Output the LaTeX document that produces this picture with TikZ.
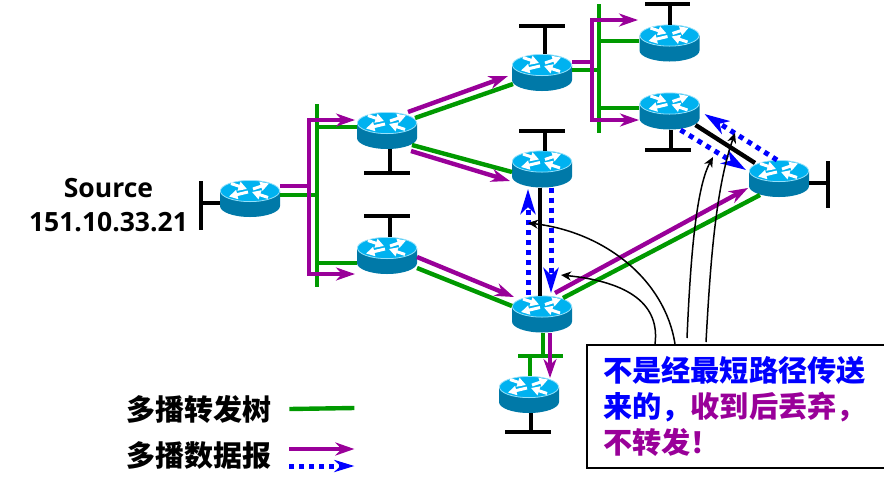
\documentclass[tikz,border=0pt]{standalone}
\usepackage{fontspec}
\usepackage{xcolor}
\usetikzlibrary{arrows.meta}
\setmainfont{Open Sans}
\newfontfamily\cjk{Noto Sans CJK SC}
\definecolor{treegreen}{RGB}{0,153,0}
\definecolor{datapurple}{RGB}{153,0,153}
\definecolor{pushblue}{RGB}{0,0,255}
\definecolor{routertop}{RGB}{0,178,240}
\definecolor{routerbody}{RGB}{0,121,168}
\definecolor{routerrim}{RGB}{150,225,250}
\tikzset{
    routerarrow/.style={white, line width=3pt, -{Triangle[length=8.5pt,width=9pt]}},
    router/.style={inner sep=0pt, outer sep=0pt, minimum width=60pt, minimum height=37pt,
        path picture={
            \begin{scope}[x=1pt, y=1pt, shift={(path picture bounding box.center)}]
                \fill[routerbody] (-30,7.5) -- (-30,-7.5)
                    arc[start angle=180, end angle=360, x radius=30, y radius=11] -- (30,7.5) -- cycle;
                \fill[routertop, draw=routerrim, line width=0.8pt] (0,7.5) ellipse [x radius=29.6, y radius=10.6];
                \draw[routerarrow] (-19,15) -- (-3,9.5);
                \draw[routerarrow] (3,9.5) -- (19,15);
                \draw[routerarrow] (-2,6.5) -- (-21,2);
                \draw[routerarrow] (18,1) -- (2,6.5);
            \end{scope}
        }},
    treeline/.style={treegreen, line width=4.4pt},
    dataline/.style={datapurple, line width=4.4pt, -{Stealth[length=19pt,width=13pt,inset=6pt]}},
    pushline/.style={pushblue, line width=5pt, dash pattern=on 5pt off 5pt,
        -{Stealth[length=25pt,width=15pt,inset=7pt]}},
    lanline/.style={black, line width=4.4pt},
    noteline/.style={black, line width=1.5pt, -{Stealth[length=10pt,width=9pt,inset=3pt]}},
    labeltext/.style={inner sep=0pt, font=\cjk\bfseries\fontsize{29}{36}\selectfont},
}

\begin{document}
\begin{tikzpicture}[x=1pt, y=-1pt]
    \useasboundingbox (0,0) rectangle (884,491);

    % Routers
    \node[router] (r0) at (250,198.5) {};
    \node[router] (r1) at (387,130.5) {};
    \node[router] (r2) at (387,255.5) {};
    \node[router] (r3) at (542,72.5) {};
    \node[router] (r4) at (542,169) {};
    \node[router] (r5) at (542,314) {};
    \node[router] (r6) at (529,394.5) {};
    \node[router] (r7) at (669.5,43) {};
    \node[router] (r8) at (669.5,111) {};
    \node[router] (r9) at (779,178.5) {};

    % Source address
    \node[inner sep=0pt, font=\bfseries\fontsize{26.5}{34}\selectfont, align=center] (source) at (108.5,205)
        {Source\\151.10.33.21};

    % Stub LANs
    \coordinate (lan0) at (201,181);
    \coordinate (lan1) at (390,173);
    \coordinate (lan2) at (390,216);
    \coordinate (lan3) at (545,26);
    \coordinate (lan4) at (545,131);
    \coordinate (lan6) at (531,432);
    \coordinate (lan7) at (670,4);
    \coordinate (lan8) at (671,150);
    \coordinate (lan9) at (828,161);
    \draw[lanline] (lan0) -- ++(0,49);
    \draw[lanline] ([shift={(-30,4.5)}]r0.center) -- ++(-19,0);
    \draw[lanline] ([xshift=-26pt]lan1) -- ([xshift=20pt]lan1);
    \draw[lanline] (lan1) -- (lan1 |- r1.south);
    \draw[lanline] ([xshift=-26pt]lan2) -- ([xshift=20pt]lan2);
    \draw[lanline] (lan2) -- (lan2 |- r2.north);
    \draw[lanline] ([xshift=-26pt]lan3) -- ([xshift=20pt]lan3);
    \draw[lanline] (lan3) -- (lan3 |- r3.north);
    \draw[lanline] ([xshift=-26pt]lan4) -- ([xshift=20pt]lan4);
    \draw[lanline] (lan4) -- (lan4 |- r4.north);
    \draw[lanline] ([xshift=-26pt]lan6) -- ([xshift=20pt]lan6);
    \draw[lanline] (lan6) -- (lan6 |- r6.south);
    \draw[lanline] ([xshift=-25pt]lan7) -- ([xshift=20pt]lan7);
    \draw[lanline] (lan7) -- (lan7 |- r7.north);
    \draw[lanline] ([xshift=-26pt]lan8) -- ([xshift=20pt]lan8);
    \draw[lanline] (lan8) -- (lan8 |- r8.south);
    \draw[lanline] (lan9) -- ++(0,47);
    \draw[lanline] ([shift={(30,4.5)}]r9.center) -- ++(19,0);

    % Shared buses of the tree
    \coordinate (busatop) at (317,104);
    \coordinate (busabot) at (317,287);
    \coordinate (busbtop) at (599,4);
    \coordinate (busbbot) at (599,133);
    \coordinate (buscleft) at (518,356);
    \coordinate (buscright) at (563,356);
    \coordinate (busctop) at (543,356);
    \coordinate (buscbot) at (530,356);
    \coordinate (juna) at (309,186);
    \coordinate (junb) at (592,62);
    \draw[treeline] (busatop) -- (busabot);
    \draw[treeline] (busbtop) -- (busbbot);
    \draw[treeline] (buscleft) -- (buscright);

    % Multicast forwarding tree
    \draw[treeline] ([shift={(30,-3.5)}]r0.center) -| (busatop);
    \draw[treeline] ([shift={(-30,-3.5)}]r1.center) -| (busatop);
    \draw[treeline] ([shift={(-30,7.5)}]r2.center) -| (busabot);
    \draw[treeline] ([shift={(28,-12.5)}]r1.center) -- ([shift={(-29,11.5)}]r3.center);
    \draw[treeline] ([shift={(25,14.5)}]r1.center) -- ([shift={(-30,3)}]r4.center);
    \draw[treeline] ([shift={(30,12.5)}]r2.center) -- ([shift={(-30,-8)}]r5.center);
    \draw[treeline] ([shift={(21,-16)}]r5.center) -- ([shift={(-19,16.5)}]r9.center);
    \draw[treeline] ([shift={(30,-2.5)}]r3.center) -| (busbtop);
    \draw[treeline] ([shift={(-31,-2)}]r7.center) -| (busbtop);
    \draw[treeline] ([shift={(-31,-3)}]r8.center) -| (busbbot);
    \draw[treeline] (busctop |- r5.south) -- (busctop);
    \draw[treeline] (buscbot |- r6.north) -- (buscbot);

    % Multicast datagrams
    \draw[datapurple, line width=4.4pt] ([shift={(30,-12.5)}]r0.center) -- (juna);
    \draw[dataline] (juna) |- ([shift={(-32,-10.5)}]r1.center);
    \draw[dataline] (juna) |- ([shift={(-32,18.5)}]r2.center);
    \draw[dataline] ([shift={(21,-18.5)}]r1.center) -- ([shift={(-34,3.5)}]r3.center);
    \draw[dataline] ([shift={(24,20.5)}]r1.center) -- ([shift={(-32,12)}]r4.center);
    \draw[dataline] ([shift={(30,1.5)}]r2.center) -- ([shift={(-28,-17)}]r5.center);
    \draw[dataline] ([shift={(13,-21)}]r5.center) -- ([shift={(-31,9.5)}]r9.center);
    \draw[dataline] ([shift={(8,19)}]r5.center) -- ([shift={(21,-16.5)}]r6.center);
    \draw[datapurple, line width=4.4pt] ([shift={(30,-10.5)}]r3.center) -- (junb);
    \draw[dataline] (junb) |- ([shift={(-31.5,-23)}]r7.center);
    \draw[dataline] (junb) |- ([shift={(-30.5,9)}]r8.center);

    % Links off the tree
    \draw[lanline] ([shift={(-2,18.5)}]r4.center) -- ([shift={(-2,-18.5)}]r5.center);
    \draw[lanline] ([shift={(26,14)}]r8.center) -- ([shift={(-24,-15.5)}]r9.center);

    % Dropped datagrams
    \draw[pushline] ([shift={(-14,-19)}]r5.center) -- ([shift={(-14,20)}]r4.center);
    \draw[pushline] ([shift={(9,18.5)}]r4.center) -- ([shift={(9,-21)}]r5.center);
    \draw[pushline] ([shift={(11,19)}]r8.center) -- ([shift={(-33,-8.5)}]r9.center);
    \draw[pushline] ([shift={(-2,-18.5)}]r9.center) -- ([shift={(35,3)}]r8.center);

    % Note box
    \node[draw=black, line width=2pt, fill=white, anchor=north west, minimum width=297pt, minimum height=123pt,
        inner xsep=16pt, inner ysep=0pt, text width=270pt, align=left, font=\cjk\bfseries\fontsize{29.2}{36}\selectfont] (note) at (586,344)
        {\color{pushblue}不是经最短路径传送\\来的，\color{datapurple}收到后丢弃，\\不转发！};

    % Arrows out of the note
    \coordinate (tipa) at (528,223);
    \coordinate (tipb) at (561,275);
    \coordinate (tipc) at (713,157);
    \coordinate (tipd) at (735,133);
    \draw[noteline] ([xshift=89pt]note.north west) .. controls (665,280) and (605,232) .. (tipa);
    \draw[noteline] ([xshift=69pt]note.north west) .. controls (660,305) and (630,282) .. (tipb);
    \draw[noteline] ([shift={(101,-6)}]note.north west) .. controls (690,270) and (695,190) .. (tipc);
    \draw[noteline] ([shift={(120,-2)}]note.north west) .. controls (710,270) and (715,190) .. (tipd);

    % Legend
    \node[labeltext, anchor=west] (legtree) at (126,409) {多播转发树};
    \node[labeltext, anchor=west] (legdata) at (126,456) {多播数据报};
    \draw[treeline] ([xshift=18pt]legtree.east) -- ++(65,-1);
    \draw[dataline] ([shift={(18,-7)}]legdata.east) -- ++(65,0);
    \draw[pushline, -{Stealth[length=20pt,width=12pt,inset=6pt]}] ([shift={(18,10)}]legdata.east) -- ++(65,0);
\end{tikzpicture}
\end{document}
